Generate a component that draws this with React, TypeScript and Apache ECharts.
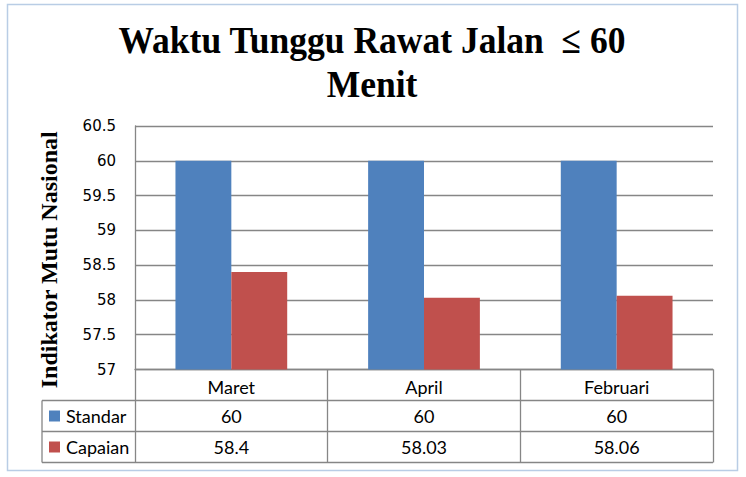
import React, { useEffect, useRef } from "react";
import * as echarts from "echarts";

const categories = ["Maret", "April", "Februari"];
const standar = [60, 60, 60];
const capaian = [58.4, 58.03, 58.06];
const seriesNames = ["Standar", "Capaian"];
const seriesColors = ["#4F81BD", "#C0504D"];
const titleLines = ["Waktu Tunggu Rawat Jalan  \u2264 60", "Menit"];
const yAxisName = "Indikator Mutu Nasional";

const W = 746;
const H = 477;
const GL = 135;
const GR = 713;
const GT = 126;
const GB = 369.5;
const ROW = 31;
const TL = 42;
const GRID_COLOR = "#868686";

export default function App() {
  const ref = useRef<HTMLDivElement>(null);
  useEffect(() => {
    document.body.style.margin = "0";
    const chart = echarts.init(ref.current!, undefined, { renderer: "svg" });
    const colW = (GR - GL) / categories.length;
    const rows = [standar, capaian];
    const graphic: any[] = [
      {
        type: "rect",
        shape: { x: 7.5, y: 4.5, width: 730, height: 466 },
        style: { fill: "none", stroke: "#B9CDE5", lineWidth: 1.5 },
        silent: true,
      },
      {
        type: "text",
        x: 49,
        y: (GT + GB) / 2 + 12,
        rotation: Math.PI / 2,
        style: {
          text: yAxisName,
          font: "bold 24px 'Liberation Serif'",
          fill: "#000",
          align: "center",
          verticalAlign: "middle",
        },
      },
    ];
    const titleY = [40.5, 84];
    titleLines.forEach((t, i) => {
      graphic.push({
        type: "text",
        x: W / 2 - 1,
        y: titleY[i],
        scaleX: 0.935,
        style: {
          text: t,
          font: "bold 38px 'Liberation Serif'",
          fill: "#000",
          align: "center",
          verticalAlign: "middle",
        },
      });
    });
    // table horizontal lines
    for (let r = 1; r <= 3; r++) {
      const y = GB + ROW * r;
      graphic.push({
        type: "line",
        shape: { x1: TL, y1: y, x2: GR, y2: y },
        style: { stroke: GRID_COLOR, lineWidth: 1.3 },
      });
    }
    graphic.push({
      type: "line",
      shape: { x1: TL, y1: GB + ROW, x2: TL, y2: GB + ROW * 3 },
      style: { stroke: GRID_COLOR, lineWidth: 1.3 },
    });
    rows.forEach((vals, r) => {
      const cy = GB + ROW * (r + 1.5);
      graphic.push({
        type: "rect",
        shape: { x: TL + 7, y: cy - 5.5, width: 11, height: 11 },
        style: { fill: seriesColors[r] },
      });
      graphic.push({
        type: "text",
        x: TL + 24,
        y: cy,
        style: {
          text: seriesNames[r],
          font: "18px Lato",
          fill: "#000",
          align: "left",
          verticalAlign: "middle",
        },
      });
      vals.forEach((v, c) => {
        graphic.push({
          type: "text",
          x: GL + colW * (c + 0.5),
          y: cy,
          style: {
            text: String(v),
            font: "18px Lato",
            fill: "#000",
            align: "center",
            verticalAlign: "middle",
          },
        });
      });
    });
    chart.setOption({
      animation: false,
      grid: { left: GL, right: W - GR, top: GT, bottom: H - GB },
      xAxis: {
        type: "category",
        data: categories,
        axisLine: { show: true, lineStyle: { color: GRID_COLOR, width: 1.3 } },
        axisTick: { show: true, length: ROW * 3, lineStyle: { color: GRID_COLOR, width: 1.3 } },
        axisLabel: { margin: 8, fontFamily: "Lato", fontSize: 18, color: "#000" },
      },
      yAxis: {
        type: "value",
        min: 57,
        max: 60.5,
        interval: 0.5,
        axisLine: { show: true, lineStyle: { color: GRID_COLOR, width: 1.3 } },
        axisTick: { show: false },
        axisLabel: { margin: 19, fontFamily: "DejaVu Sans", fontSize: 15, color: "#000" },
        splitLine: { lineStyle: { color: GRID_COLOR, width: 1.3 } },
      },
      series: [
        {
          name: seriesNames[0],
          type: "bar",
          data: standar,
          itemStyle: { color: seriesColors[0] },
          barGap: "0%",
          barCategoryGap: "42%",
        },
        {
          name: seriesNames[1],
          type: "bar",
          data: capaian,
          itemStyle: { color: seriesColors[1] },
        },
      ],
      graphic,
    });
    return () => chart.dispose();
  }, []);
  return <div ref={ref} style={{ width: W, height: H }} />;
}
